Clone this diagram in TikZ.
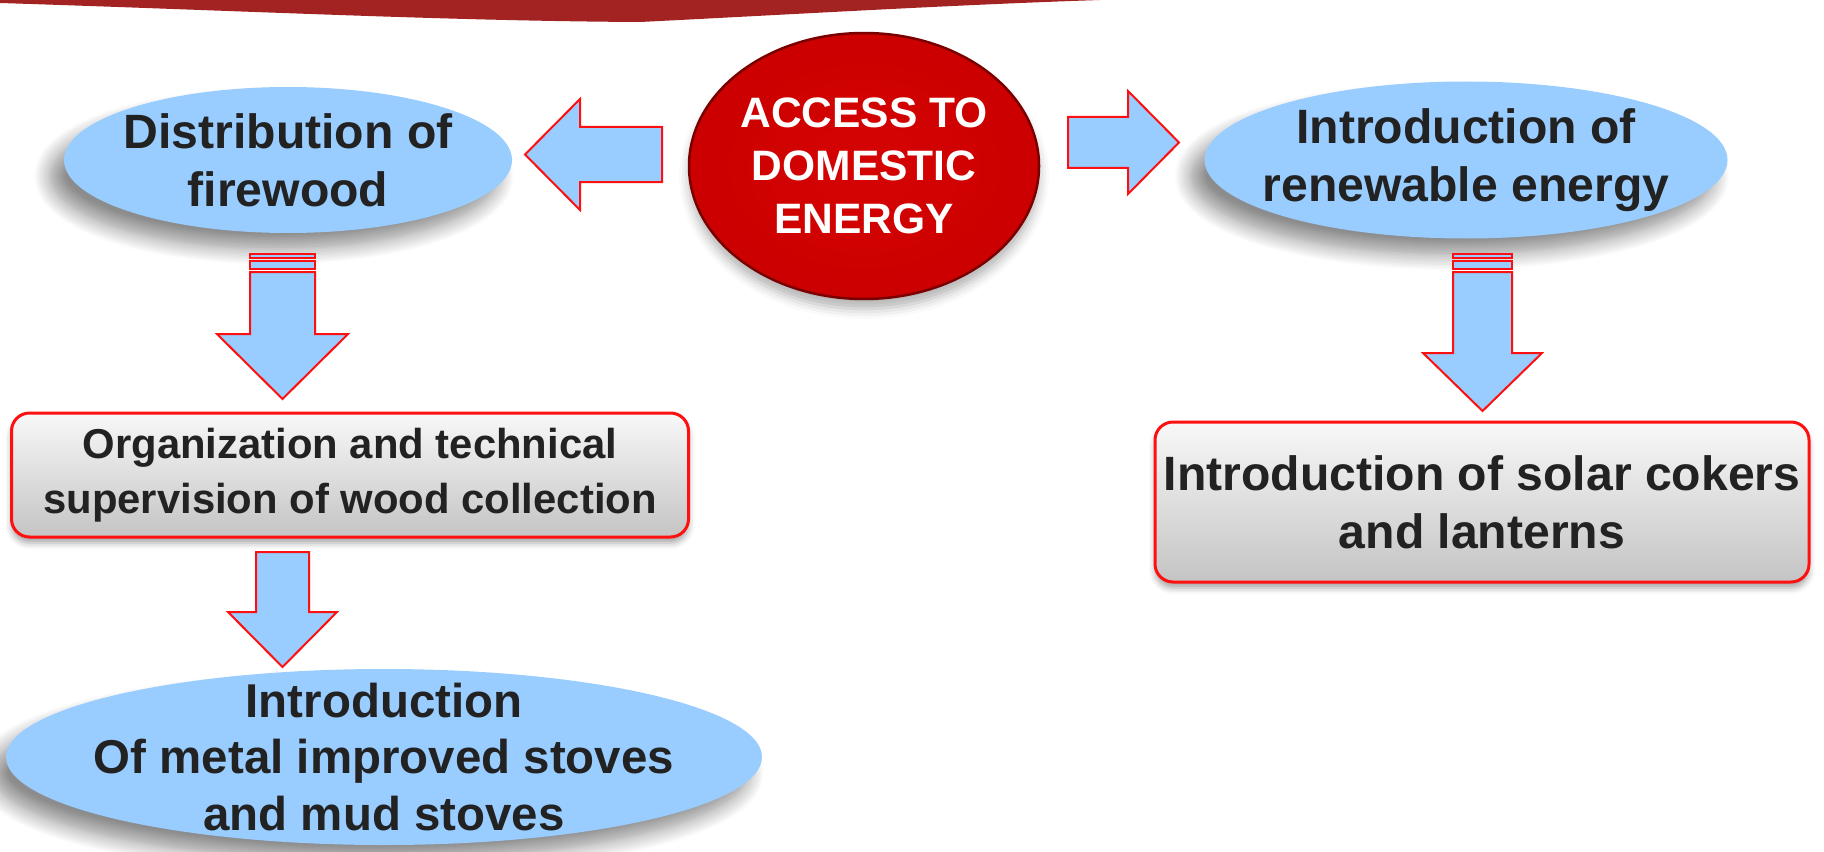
\documentclass[tikz,border=0pt]{standalone}
\usepackage{fontspec}
\setmainfont{Liberation Sans}
\usetikzlibrary{calc,shapes.geometric,shadows.blur}
\definecolor{bubbleBlue}{HTML}{99CCFF}
\definecolor{arrowRed}{HTML}{FF1010}
\definecolor{coreLight}{HTML}{D60404}
\definecolor{coreRed}{HTML}{CC0000}
\definecolor{coreDark}{HTML}{B80000}
\definecolor{coreRim}{HTML}{7A0000}
\definecolor{bandRed}{HTML}{A32222}
\definecolor{textGray}{HTML}{222222}
\definecolor{boxTop}{HTML}{F8F8F8}
\definecolor{boxBottom}{HTML}{C4C4C4}
\pgfdeclareradialshading{coreShading}{\pgfpoint{0bp}{0bp}}{%%
  color(0bp)=(coreLight); color(22bp)=(coreRed); color(26bp)=(coreRed);
  color(32bp)=(coreDark); color(50bp)=(coreRim)}
%% Block arrow from tail #1 to tip #2: shaft half width #3,
%% head half width #4, head length #5.
\newcommand{\blockArrow}[5]{%%
  \coordinate (headBase) at ($(#2)!#5!(#1)$);
  \draw[blockStyle] ($(#1)!#3!90:(#2)$) -- ($(headBase)!#3!90:(#2)$)
    -- ($(headBase)!#4!90:(#2)$) -- (#2) -- ($(headBase)!#4!-90:(#2)$)
    -- ($(headBase)!#3!-90:(#2)$) -- ($(#1)!#3!-90:(#2)$) -- cycle;
}
%% Two thin bars above a downward arrow.
\newcommand{\arrowStripes}[2]{%%
  \draw[blockStyle] ($(#1)+(-#2,-18)$) rectangle ($(#1)+(#2,-14)$);
  \draw[blockStyle] ($(#1)+(-#2,-11)$) rectangle ($(#1)+(#2,-3)$);
}
\newcommand{\headFont}{\bfseries\fontsize{13.7pt}{16.5pt}\selectfont}

\begin{document}
\begin{tikzpicture}[%%
  x=0.1mm,y=-0.1mm,
  blockStyle/.style={fill=bubbleBlue,draw=arrowRed,line width=0.2mm,line join=miter},%%
  shadowStyle/.style={blur shadow={shadow xshift=-1.4mm,shadow yshift=-1.6mm,
      shadow blur radius=1.6mm,shadow blur steps=12,shadow opacity=45}},%%
  bubbleStyle/.style={ellipse,fill=bubbleBlue,inner sep=-6mm,align=center,
      text=textGray,font=\headFont,shadowStyle},%%
  boxStyle/.style={rectangle,rounded corners=1.8mm,draw=arrowRed,line width=0.3mm,
      top color=boxTop,bottom color=boxBottom,inner sep=0pt,align=center,
      text=textGray,blur shadow={shadow xshift=0mm,shadow yshift=-0.6mm,
      shadow blur radius=0.6mm,shadow opacity=35}},%%
  coreStyle/.style={ellipse,shading=coreShading,draw=coreRim,line width=0.25mm,
      inner sep=-6mm,align=center,text=white,
      font=\bfseries\fontsize{12.1pt}{15.1pt}\selectfont,
      blur shadow={shadow xshift=0mm,shadow yshift=-1mm,shadow blur radius=1mm,
      shadow opacity=30}}
]
\useasboundingbox (0,0) rectangle (1824,851);
%%
%% The brush band at the top.
\fill[bandRed] (0,0) -- (1100,0) .. controls (950,5) and (800,14) .. (640,22)
  .. controls (450,21) and (250,11) .. (0,3) -- cycle;
%%
%% The centre and the four topics.
\node[coreStyle,minimum width=35mm,minimum height=26.6mm] (core) at (864,166)
  {ACCESS TO\\DOMESTIC\\ENERGY};
\node[bubbleStyle,minimum width=44.8mm,minimum height=14.6mm] (firewood) at (288,160)
  {Distribution of\\firewood};
\node[bubbleStyle,minimum width=52.3mm,minimum height=15.7mm] (renewable) at (1466,160)
  {Introduction of\\renewable energy};
\node[boxStyle,minimum width=67.7mm,minimum height=12.4mm,
  font=\bfseries\fontsize{11.9pt}{15.6pt}\selectfont] (collection) at (350,475)
  {Organization and technical\\supervision of wood collection};
\node[boxStyle,minimum width=65.4mm,minimum height=16mm,
  font=\headFont] (solar) at (1482,502)
  {Introduction of solar cokers\\and lanterns};
\node[bubbleStyle,minimum width=75.6mm,minimum height=17.6mm,
  font=\bfseries\fontsize{13.5pt}{16.2pt}\selectfont] (stoves) at (384,757)
  {Introduction\\Of metal improved stoves\\and mud stoves};
%%
%% Arrow ends.
\coordinate (coreLeft) at (662,154.5);
\coordinate (firewoodIn) at (525,154.5);
\coordinate (coreRight) at (1068,142.5);
\coordinate (renewableIn) at (1179,142.5);
\coordinate (firewoodOut) at (282.5,272);
\coordinate (collectionIn) at (282.5,399);
\coordinate (collectionOut) at (282.5,552);
\coordinate (stovesIn) at (282.5,667);
\coordinate (renewableOut) at (1482.5,272);
\coordinate (solarIn) at (1482.5,411);
%%
%% The block arrows.
\blockArrow{coreLeft}{firewoodIn}{2.75mm}{5.55mm}{5.5mm}
\blockArrow{coreRight}{renewableIn}{2.55mm}{5.15mm}{5.1mm}
\arrowStripes{firewoodOut}{32.5}
\blockArrow{firewoodOut}{collectionIn}{3.25mm}{6.55mm}{6.5mm}
\blockArrow{collectionOut}{stovesIn}{2.65mm}{5.45mm}{5.5mm}
\arrowStripes{renewableOut}{29.5}
\blockArrow{renewableOut}{solarIn}{2.95mm}{5.95mm}{5.8mm}
\end{tikzpicture}
\end{document}
